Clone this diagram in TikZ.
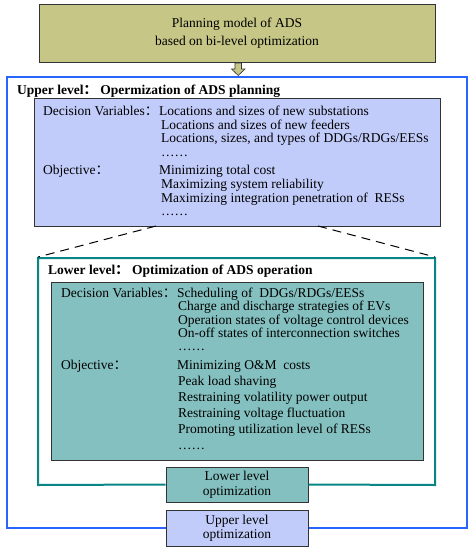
\documentclass[tikz,border=0pt]{standalone}
\usepackage{fontspec}
\setmainfont{Liberation Serif}
\newfontfamily\cjk{Noto Sans CJK SC}
\definecolor{olivefill}{RGB}{198,198,134}
\definecolor{bluefill}{RGB}{194,204,250}
\definecolor{tealfill}{RGB}{132,192,192}
\definecolor{tealline}{RGB}{8,134,134}
\definecolor{blueline}{RGB}{40,100,255}
\newcommand{\fwc}{{\cjk ：}}
\begin{document}
\begin{tikzpicture}[x=1pt,y=-1pt,
  txt/.style={anchor=base west,inner sep=0pt,font=\fontsize{13.5}{14}\selectfont},
  ttl/.style={anchor=base west,inner sep=0pt,font=\fontsize{13.5}{14}\selectfont\bfseries},
  ctr/.style={inner sep=0pt,font=\fontsize{13.5}{14}\selectfont,align=center},
  boxline/.style={draw=black!80,line width=1pt}]
\useasboundingbox (0,0) rectangle (473,550);
% top box
\node[boxline,fill=olivefill,minimum width=396pt,minimum height=58pt,inner sep=0pt] (top) at (237,33) {};
\node[ctr] (toptext) at (237,33) {Planning model of ADS\\[4pt]based on bi-level optimization};
% block arrow
\draw[fill=olivefill,draw=black!80,line width=0.6pt] (235,63) -- (241.5,63) -- (241.5,69) -- (245,69) -- (238.25,75.5) -- (231.5,69) -- (235,69) -- cycle;
% outer blue frame
\node[boxline,fill=bluefill,minimum width=142pt,minimum height=36pt,inner sep=0pt] (upopt) at (237,528) {};
\node[ctr] (upopttext) at (237,528) {Upper level\\optimization};
\draw[blueline,line width=2pt] (upopt.west) -- (7,528) -- (7,77) -- (467,77) -- (467,528) -- (upopt.east);
\node[ttl] (uptitle) at (17,94) {Upper level\fwc\ Opermization of ADS planning};
% upper box
\node[boxline,fill=bluefill,minimum width=406pt,minimum height=128pt,inner sep=0pt] (upbox) at (237,162) {};
\node[txt] (udv) at (43,115) {Decision Variables\fwc};
\node[txt] (udv1) at (159,115) {Locations and sizes of new substations};
\node[txt] (udv2) at (161,129) {Locations and sizes of new feeders};
\node[txt] (udv3) at (161,142.5) {Locations, sizes, and types of DDGs/RDGs/EESs};
\node[txt] (udv4) at (161,156) {……};
\node[txt] (uob) at (43,174) {Objective\fwc};
\node[txt] (uob1) at (159,174) {Minimizing total cost};
\node[txt] (uob2) at (161,188) {Maximizing system reliability};
\node[txt] (uob3) at (161,202) {Maximizing integration penetration of\ \ RESs};
\node[txt] (uob4) at (161,215) {……};
% lower frame
\node[boxline,fill=tealfill,minimum width=142pt,minimum height=35pt,inner sep=0pt] (lowopt) at (237,484.5) {};
\node[ctr] (lowopttext) at (237,484.5) {Lower level\\[1pt]optimization};
\draw[tealline,line width=2pt] (lowopt.west) -- (38,485) -- (38,258) -- (435,258) -- (435,485) -- (lowopt.east);
\coordinate (lfl) at (38,257);
\coordinate (lfr) at (435,257);
\coordinate (ubl) at (156,226);
\coordinate (ubr) at (318,226);
\draw[black,line width=1pt,dash pattern=on 9pt off 6pt] (ubl) -- (lfl);
\draw[black,line width=1pt,dash pattern=on 9pt off 6pt] (ubr) -- (lfr);
\node[ttl] (lowtitle) at (48,274) {Lower level\fwc\ Optimization of ADS operation};
% lower box
\node[boxline,fill=tealfill,minimum width=372pt,minimum height=178pt,inner sep=0pt] (lowbox) at (237,371) {};
\node[txt] (ldv) at (61,297) {Decision Variables\fwc};
\node[txt] (ldv1) at (177,297) {Scheduling of\ \ DDGs/RDGs/EESs};
\node[txt] (ldv2) at (178,310.5) {Charge and discharge strategies of EVs};
\node[txt] (ldv3) at (178,324) {Operation states of voltage control devices};
\node[txt] (ldv4) at (178,337) {On-off states of interconnection switches};
\node[txt] (ldv5) at (178,350) {……};
\node[txt] (lob) at (61,369) {Objective\fwc};
\node[txt] (lob1) at (177,369) {Minimizing O\&M\ \ costs};
\node[txt] (lob2) at (178,385) {Peak load shaving};
\node[txt] (lob3) at (178,401) {Restraining volatility power output};
\node[txt] (lob4) at (178,417) {Restraining voltage fluctuation};
\node[txt] (lob5) at (178,433) {Promoting utilization level of RESs};
\node[txt] (lob6) at (178,449) {……};
\end{tikzpicture}
\end{document}
